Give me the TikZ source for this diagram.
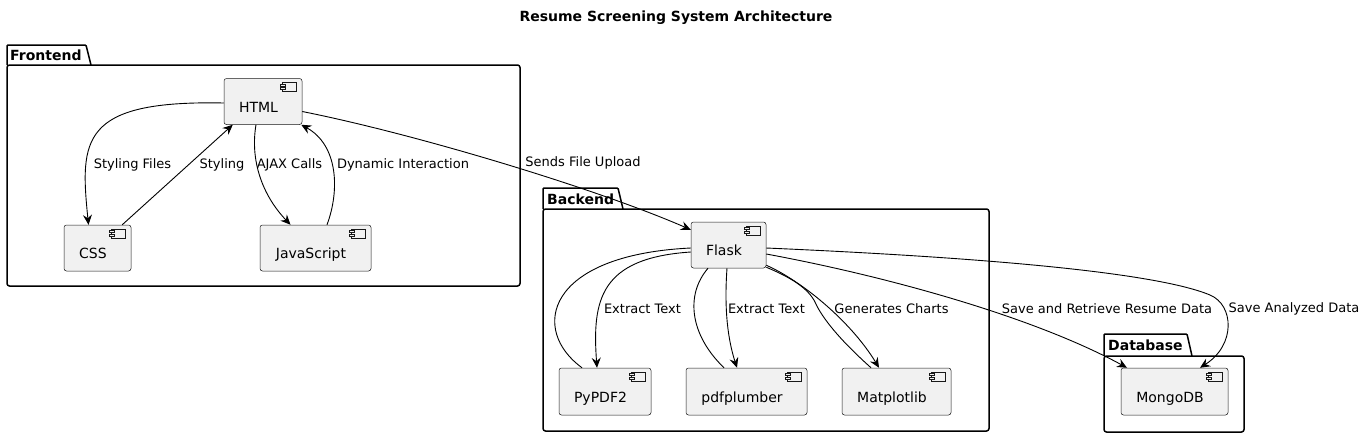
\documentclass[tikz,border=0pt]{standalone}
\usepackage{fontspec}
\setmainfont{DejaVu Sans}
\usetikzlibrary{arrows.meta, calc}
\definecolor{compfill}{HTML}{F1F1F1}
\definecolor{compline}{HTML}{181818}

\begin{document}
\begin{tikzpicture}[x=1pt, y=-1pt,
    comp/.style={draw=compline, line width=0.5pt, fill=compfill, rounded corners=2.5pt,
        minimum height=46pt, inner sep=2pt, text height=21pt, text depth=0pt,
        font=\fontsize{14}{16}\selectfont, execute at end node={\hspace*{9pt}}},
    pkg/.style={draw=black, line width=1.5pt},
    pkglbl/.style={anchor=west, inner sep=0pt, font=\fontsize{14}{16}\selectfont\bfseries},
    lbl/.style={inner sep=0pt, font=\fontsize{13}{15}\selectfont},
    arr/.style={-{Stealth[length=10pt, width=9pt, inset=3.5pt]}, line width=0.9pt},
    ln/.style={line width=0.9pt}]
\useasboundingbox (0,0) rectangle (1365,437);

\node[inner sep=0pt, font=\fontsize{14}{16}\selectfont\bfseries] (title) at (676,18) {Resume Screening System Architecture};

% packages
\draw[pkg, rounded corners=1pt] (7,65) -- (7,45) -- (86,45) -- (91,65);
\draw[pkg, rounded corners=2.5pt] (7,65) rectangle (520,286);
\node[pkglbl] (frontend) at (10,55.5) {Frontend};
\draw[pkg, rounded corners=1pt] (543,209) -- (543,188) -- (618,188) -- (623,209);
\draw[pkg, rounded corners=2.5pt] (543,209) rectangle (989,431);
\node[pkglbl] (backend) at (547,199) {Backend};
\draw[pkg, rounded corners=1pt] (1104,356) -- (1104,334) -- (1187,334) -- (1192,356);
\draw[pkg, rounded corners=2.5pt] (1104,356) rectangle (1244,432);
\node[pkglbl] (database) at (1108,345) {Database};

% components
\node[comp, minimum width=78pt] (html) at (263,101.5) {HTML};
\node[comp, minimum width=67pt] (css) at (97.5,248) {CSS};
\node[comp, minimum width=111pt] (js) at (315.5,248) {JavaScript};
\node[comp, minimum width=75pt] (flask) at (728.5,245) {Flask};
\node[comp, minimum width=92pt, minimum height=47pt] (pypdf) at (605,391.5) {PyPDF2};
\node[comp, minimum width=121pt, minimum height=47pt] (plumber) at (746.5,391.5) {pdfplumber};
\node[comp, minimum width=109pt, minimum height=47pt] (mpl) at (896.5,391.5) {Matplotlib};
\node[comp, minimum width=107pt, minimum height=47pt] (mongo) at (1174.5,391.5) {MongoDB};

\foreach \n in {html,css,js,flask,pypdf,plumber,mpl,mongo} {
    \draw[compline, line width=0.5pt] ($(\n.north east)+(-20,4)$) rectangle ($(\n.north east)+(-6,13)$);
    \draw[compline, line width=0.5pt, fill=compfill] ($(\n.north east)+(-22.5,5.5)$) rectangle ($(\n.north east)+(-17.5,7.5)$);
    \draw[compline, line width=0.5pt, fill=compfill] ($(\n.north east)+(-22.5,9)$) rectangle ($(\n.north east)+(-17.5,11)$);
}

% frontend edges
\draw[arr] ([yshift=-1.5pt]html.west) .. controls (80,100) and (80,140) .. ([xshift=-9pt]css.north);
\draw[arr] ([xshift=-9pt]css.north east) -- ([xshift=9pt]html.south west);
\draw[arr] ([xshift=-7pt]html.south) .. controls (250,160) and (262,195) .. ([xshift=-25pt]js.north);
\draw[arr] ([xshift=11.5pt]js.north) .. controls (340,190) and (338,145) .. ([xshift=-1pt]html.south east);
\draw[arr] ([yshift=-10pt]html.east) .. controls (420,135) and (600,190) .. ([yshift=-8pt]flask.north west);
\node[lbl] (l1) at (132.5,165) {Styling Files};
\node[lbl] (l2) at (222,165) {Styling};
\node[lbl] (l3) at (289.5,165) {AJAX Calls};
\node[lbl] (l4) at (403,165) {Dynamic Interaction};
\node[lbl] (l5) at (583,163) {Sends File Upload};

% backend edges
\draw[arr] ([yshift=-7pt]flask.west) .. controls (600,258) and (592,300) .. ([xshift=-8pt]pypdf.north);
\draw[ln] ([xshift=-23pt]pypdf.north) .. controls (530,330) and (545,255) .. ([yshift=-3pt]flask.west);
\draw[arr] ([xshift=-1.5pt]flask.south) .. controls (724,310) and (728,340) .. ([xshift=-9.5pt]plumber.north);
\draw[ln] ([xshift=-22.5pt]plumber.north) .. controls (690,335) and (685,295) .. ([xshift=-20.5pt]flask.south);
\draw[arr] ([yshift=3pt]flask.south east) .. controls (800,280) and (850,320) .. ([xshift=-17.5pt]mpl.north);
\draw[ln] ([xshift=-25.5pt]mpl.north) .. controls (840,340) and (822,318) .. (815,302)
    .. controls (808,288) and (790,277) .. ([yshift=1pt]flask.south east);
\node[lbl] (l6) at (642.5,309) {Extract Text};
\node[lbl] (l7) at (766.5,309) {Extract Text};
\node[lbl] (l8) at (891.5,309) {Generates Charts};

% database edges
\draw[arr] ([yshift=-9pt]flask.east) .. controls (880,275) and (1030,315) .. ([xshift=-47.5pt]mongo.north);
\draw[arr] ([yshift=-3pt]flask.east) .. controls (950,256) and (1150,270) .. (1210,295)
    .. controls (1234,305) and (1236,345) .. ([xshift=25.5pt]mongo.north);
\node[lbl] (l9) at (1107,309) {Save and Retrieve Resume Data};
\node[lbl] (l10) at (1294,309) {Save Analyzed Data};
\end{tikzpicture}
\end{document}
